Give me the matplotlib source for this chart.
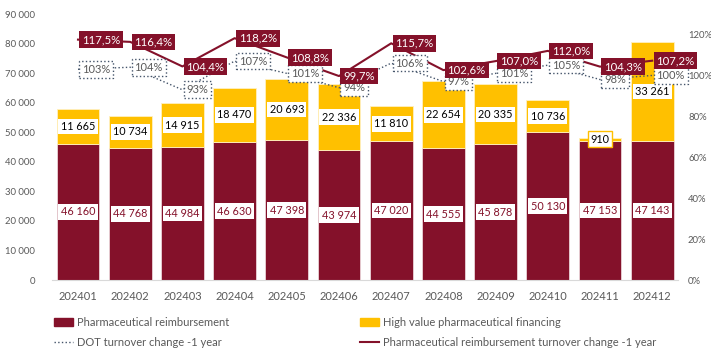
import matplotlib
matplotlib.use('Agg')
import matplotlib.pyplot as plt
from matplotlib.patches import Patch
from matplotlib.lines import Line2D
import numpy as np

months = ['202401', '202402', '202403', '202404', '202405', '202406',
          '202407', '202408', '202409', '202410', '202411', '202412']
reimbursement = [46160, 44768, 44984, 46630, 47398, 43974,
                 47020, 44555, 45878, 50130, 47153, 47143]
high_value = [11665, 10734, 14915, 18470, 20693, 22336,
              11810, 22654, 20335, 10736, 910, 33261]
reimb_change = [1.175, 1.164, 1.044, 1.182, 1.088, 0.997,
                1.157, 1.026, 1.070, 1.120, 1.043, 1.072]
dot_change = [1.03, 1.04, 0.93, 1.07, 1.01, 0.94,
              1.06, 0.97, 1.01, 1.05, 0.98, 1.00]

plt.rcParams['font.family'] = ['Lato', 'DejaVu Sans']

red = '#84112A'
yellow = '#FFC000'
navy = '#44546A'
grey = '#595959'


def thousands(v):
    return f'{v:,}'.replace(',', ' ')


fig = plt.figure(figsize=(7.11, 3.51), dpi=100)
ax = fig.add_axes([0.073, 0.202, 0.881, 0.758])
x = np.arange(len(months))

ax.bar(x, reimbursement, width=0.82, color=red, edgecolor='#ead3d8', linewidth=0.6)
ax.bar(x, high_value, bottom=reimbursement, width=0.82, color=yellow,
       edgecolor='#fff0c0', linewidth=0.6)

ax.set_xlim(-0.5, len(months) - 0.5)
ax.set_ylim(0, 90000)
ax.set_yticks(range(0, 90001, 10000))
ax.set_yticklabels([thousands(v) for v in range(0, 90001, 10000)])
ax.set_xticks(x)
ax.set_xticklabels(months)
ax.tick_params(axis='y', length=0, pad=12, labelsize=6.8, labelcolor=grey)
ax.tick_params(axis='x', length=0, pad=8, labelsize=8, labelcolor=grey)
for s in ['top', 'right', 'left']:
    ax.spines[s].set_visible(False)
ax.spines['bottom'].set_color('#D9D9D9')

for i in range(len(months)):
    r = reimbursement[i]
    h = high_value[i]
    ax.text(i, r / 2, thousands(r), ha='center', va='center', fontsize=7.8, color=red,
            bbox=dict(boxstyle='square,pad=0.22', fc='white', ec='none'))
    ec = yellow if h < 3000 else 'none'
    ax.text(i, r + h / 2, thousands(h), ha='center', va='center', fontsize=7.8, color='black',
            bbox=dict(boxstyle='square,pad=0.22', fc='white', ec=ec, lw=1))

ax2 = ax.twinx()
ax2.set_ylim(0, 1.3)
ax2.set_yticks(np.arange(0, 1.21, 0.2))
ax2.set_yticklabels([f'{int(round(v * 100))}%' for v in np.arange(0, 1.21, 0.2)])
ax2.tick_params(axis='y', length=0, pad=7, labelsize=6.8, labelcolor=grey)
for s in ax2.spines.values():
    s.set_visible(False)

ax2.plot(x, dot_change, color=navy, lw=1, ls=':')
ax2.plot(x, reimb_change, color=red, lw=1.5)

for i in range(len(months)):
    ax2.annotate(f'{dot_change[i] * 100:.0f}%', (i, dot_change[i]), xytext=(3, 0),
                 textcoords='offset points', ha='left', va='center', fontsize=8, color=grey,
                 bbox=dict(boxstyle='square,pad=0.25', fc='white', ec=navy, ls=':', lw=1))
for i in range(len(months)):
    ax2.annotate(f'{reimb_change[i] * 100:.1f}%'.replace('.', ','), (i, reimb_change[i]),
                 xytext=(3, 0), textcoords='offset points', ha='left', va='center',
                 fontsize=8.2, color='white',
                 bbox=dict(boxstyle='square,pad=0.25', fc=red, ec='none'))

leg_kw = dict(loc='upper left', frameon=False, fontsize=8, handlelength=1.7,
              handletextpad=0.35, borderpad=0, borderaxespad=0, labelspacing=0.85,
              labelcolor=grey)
fig.legend(handles=[Patch(color=red), Line2D([], [], color=navy, ls=':', lw=1)],
           labels=['Pharmaceutical reimbursement', 'DOT turnover change -1 year'],
           bbox_to_anchor=(0.076, 0.098), **leg_kw)
fig.legend(handles=[Patch(color=yellow), Line2D([], [], color=red, lw=1.5)],
           labels=['High value pharmaceutical financing',
                   'Pharmaceutical reimbursement turnover change -1 year'],
           bbox_to_anchor=(0.506, 0.098), **leg_kw)

fig.savefig('out.png', dpi=100)
